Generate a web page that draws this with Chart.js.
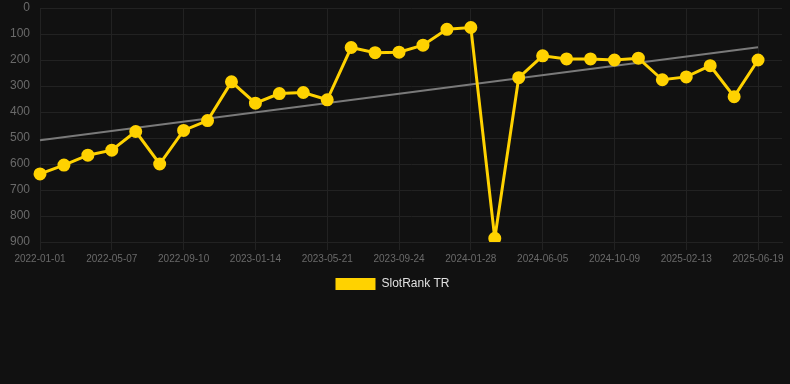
<!DOCTYPE html>
<html>
<head>
<meta charset="utf-8">
<script src="https://cdn.jsdelivr.net/npm/chart.js@4/dist/chart.umd.min.js"></script>
<style>
  html, body { margin: 0; padding: 0; background: #111111; }
  #wrap { width: 790px; height: 300px; position: relative; }
</style>
</head>
<body>
<div id="wrap"><canvas id="chart"></canvas></div>
<script>
// dates of each rank sample (last empty slot keeps the grid running to the edge)
const dates = [
  "2022-01-01", "2022-02-12", "2022-03-26", "2022-05-07", "2022-06-18", "2022-07-30",
  "2022-09-10", "2022-10-22", "2022-12-03", "2023-01-14", "2023-02-25", "2023-04-08",
  "2023-05-21", "2023-07-02", "2023-08-13", "2023-09-24", "2023-11-05", "2023-12-17",
  "2024-01-28", "2024-03-10", "2024-04-23", "2024-06-05", "2024-07-17", "2024-08-28",
  "2024-10-09", "2024-11-20", "2025-01-01", "2025-02-13", "2025-03-27", "2025-05-08",
  "2025-06-19", ""
];

const rank = [
  638, 604, 566, 547, 475, 600, 471, 433, 284, 366, 329, 325, 353, 152, 172, 170,
  143, 82, 75, 886, 268, 184, 196, 196, 200, 193, 276, 265, 222, 341, 200
];

// trend line end points
const trendStart = 509;
const trendEnd = 151;

const yTicks = [0, 100, 200, 300, 400, 500, 600, 700, 800, 900];

const yellow = "#FFD200";
const gridColor = "#222222";
const tickColor = "#6a6a6a";

Chart.defaults.font.family = "Arial, 'Liberation Sans', Helvetica, sans-serif";

const ctx = document.getElementById("chart").getContext("2d");
new Chart(ctx, {
  type: "line",
  data: {
    labels: dates,
    datasets: [
      {
        label: "SlotRank TR",
        data: rank,
        borderColor: yellow,
        backgroundColor: yellow,
        borderWidth: 3,
        pointRadius: 5,
        pointHoverRadius: 5,
        pointBackgroundColor: yellow,
        pointBorderColor: yellow,
        tension: 0,
        fill: false,
      },
      {
        label: "trend",
        data: [
          { x: dates[0], y: trendStart },
          { x: dates[rank.length - 1], y: trendEnd },
        ],
        borderColor: "#7a7a7a",
        borderWidth: 2,
        pointRadius: 0,
        fill: false,
      },
    ],
  },
  options: {
    responsive: true,
    maintainAspectRatio: false,
    animation: false,
    layout: { padding: { left: 0, right: 5, top: 0, bottom: 0 } },
    plugins: {
      tooltip: { enabled: false },
      legend: {
        position: "bottom",
        labels: {
          color: "#e0e0e0",
          font: { size: 12 },
          boxWidth: 40,
          boxHeight: 12,
          generateLabels: (chart) =>
            Chart.defaults.plugins.legend.labels
              .generateLabels(chart)
              .filter((item) => item.text === "SlotRank TR")
              .map((item) => ({ ...item, lineWidth: 0 })),
        },
      },
    },
    scales: {
      x: {
        afterFit: (axis) => {
          axis.paddingRight = 0;
        },
        grid: { color: gridColor, tickLength: 8 },
        border: { color: gridColor },
        ticks: { color: tickColor, font: { size: 10 }, maxRotation: 0, autoSkipPadding: 3 },
      },
      y: {
        reverse: true,
        min: 0,
        max: 900,
        afterBuildTicks: (axis) => {
          axis.ticks = yTicks.map((v) => ({ value: v }));
        },
        afterFit: (axis) => {
          axis.width = 40;
          axis.paddingTop = 6;
          axis.paddingBottom = 0;
        },
        grid: { color: gridColor, tickLength: 10, tickColor: "transparent" },
        border: { color: gridColor },
        ticks: { color: tickColor, font: { size: 12 }, padding: 0 },
      },
    },
  },
});
</script>
</body>
</html>
